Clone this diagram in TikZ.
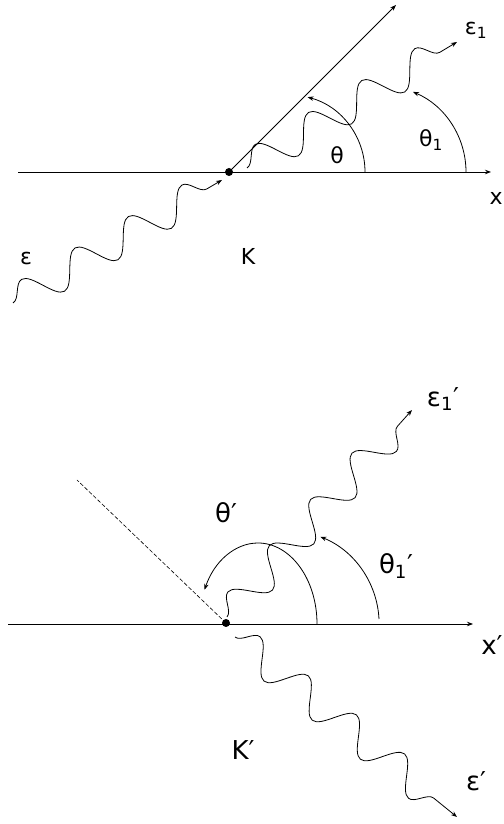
\documentclass[tikz,border=0pt]{standalone}
\usepackage{fontspec}
\setmainfont{DejaVu Sans}
\usetikzlibrary{arrows.meta,decorations.pathmorphing}

\begin{document}
\begin{tikzpicture}[x=1pt,y=1pt,line width=0.8pt,>={Stealth[length=6pt,width=4.5pt]},
  photon/.style={decorate,decoration={snake,segment length=62pt,amplitude=16pt,post length=4pt}},
  lbl/.style={font=\fontsize{22}{26}\selectfont,inner sep=0pt},
  lblb/.style={font=\fontsize{26}{30}\selectfont,inner sep=0pt}]
  \useasboundingbox (0,0) rectangle (503,824);
  % lab frame K
  \coordinate (xa) at (18,652); \coordinate (xb) at (491,652);
  \coordinate (O) at (229,652); \coordinate (ray) at (396,819);
  \coordinate (ein) at (13,521); \coordinate (eend) at (222,644);
  \coordinate (eout) at (247,656); \coordinate (e1end) at (457,782);
  \draw[->] (xa) -- (xb);
  \draw[->] (O) -- (ray);
  \fill (O) circle (4);
  \draw[->,photon] (ein) -- (eend);
  \draw[->,photon] (eout) -- (e1end);
  \coordinate (th) at (365,652); \coordinate (th1) at (466,652);
  \draw[->] (th) arc[start angle=0,end angle=75,radius=77.5];
  \draw[->] (th1) arc[start angle=0,end angle=67,radius=87];
  \node[lbl] (lth) at (337,669) {θ};
  \node[lbl] (lth1) at (431,684) {θ\textsubscript{1}};
  \node[lbl] (le1) at (476,794) {ε\textsubscript{1}};
  \node[lbl] (le) at (26,566) {ε};
  \node[lbl] (lK) at (248,568) {K};
  \node[lbl,anchor=east] (lx) at (503,626) {x};
  % rest frame K'
  \coordinate (ya) at (8,200); \coordinate (yb) at (473,200);
  \coordinate (P) at (226,201); \coordinate (back) at (77,344);
  \coordinate (fin) at (227,207); \coordinate (f1end) at (412,414);
  \coordinate (gin) at (235,187); \coordinate (gend) at (457,7);
  \draw[->] (ya) -- (yb);
  \draw[dash pattern=on 4pt off 2pt,line width=0.6pt] (P) -- (back);
  \fill (P) circle (4);
  \draw[->,photon] (fin) -- (f1end);
  \draw[->,photon] (gin) -- (gend);
  \coordinate (ph) at (317,200); \coordinate (ph1) at (379,205);
  \draw[->] (ph) arc[start angle=0,end angle=155,x radius=59,y radius=81];
  \draw[->] (ph1) arc[start angle=3,end angle=68,radius=94];
  \node[lblb] (lph) at (226,311) {θ′};
  \node[lblb] (lph1) at (396,258) {θ\textsubscript{1}′};
  \node[lblb] (lf1) at (443,425) {ε\textsubscript{1}′};
  \node[lblb] (lg) at (476,43) {ε′};
  \node[lblb] (lKp) at (243,74) {K′};
  \node[lblb,anchor=east] (ly) at (503,179) {x′};
\end{tikzpicture}
\end{document}
